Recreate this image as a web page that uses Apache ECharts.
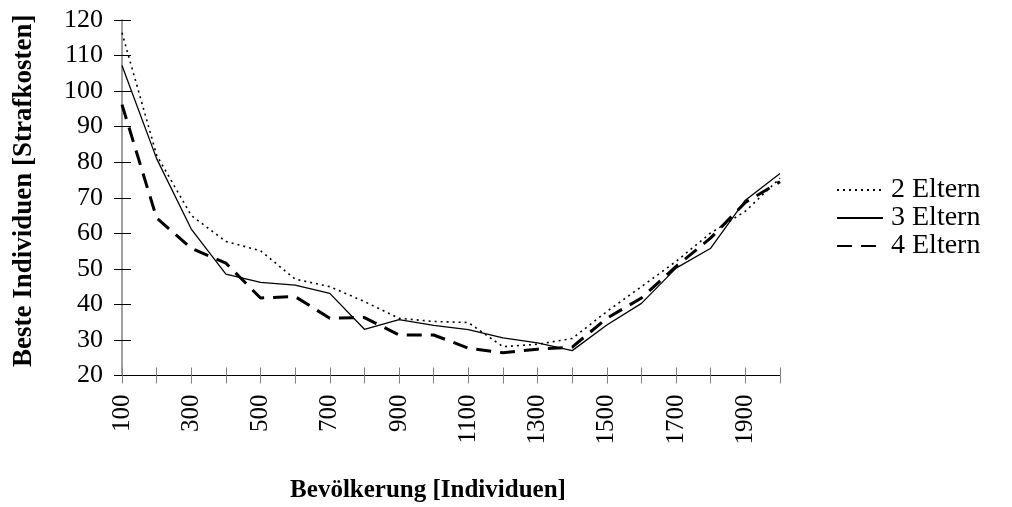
<!DOCTYPE html>
<html>
<head>
<meta charset="utf-8">
<script src="https://cdn.jsdelivr.net/npm/echarts@6/dist/echarts.min.js"></script>
<style>
  html, body { margin: 0; padding: 0; background: #fff; }
  #chart { width: 1012px; height: 507px; }
</style>
</head>
<body>
<div id="chart"></div>
<script>
// Populationsgrößen (x-Achse)
var categories = ['100', '200', '300', '400', '500', '600', '700', '800', '900', '1000',
  '1100', '1200', '1300', '1400', '1500', '1600', '1700', '1800', '1900', '2000'];

// Beste Individuen je Elternanzahl
var eltern2 = [116.4, 82, 65, 57.7, 55.1, 47.1, 45, 40.8, 36.1, 35.2,
  34.9, 28.1, 28.8, 30.4, 38, 45, 52.1, 60.1, 66.2, 75.5];
var eltern3 = [107.2, 81, 61.2, 48.5, 46.2, 45.4, 43.1, 33, 35.7, 34.1,
  32.9, 30.6, 29.2, 27, 34.2, 40.3, 50.2, 55.8, 69.3, 76.8];
var eltern4 = [96.2, 64.3, 55.8, 51.6, 41.8, 42.2, 36.1, 36.3, 31.4, 31.4,
  27.7, 26.4, 27.4, 28, 36.1, 41.8, 50.7, 58.7, 68.7, 74.5];

var serif = 'Liberation Serif';

var myChart = echarts.init(document.getElementById('chart'));

var option = {
  backgroundColor: '#fff',
  animation: false,
  textStyle: { fontFamily: serif, color: '#000' },
  grid: { left: 122, right: 232, top: 20, bottom: 131.5, outerBoundsMode: 'none', containLabel: false },
  legend: {
    orient: 'vertical',
    left: 831,
    top: 171,
    itemWidth: 46,
    itemHeight: 14,
    itemGap: 0,
    itemStyle: { opacity: 0 },
    textStyle: { fontFamily: serif, fontSize: 28, lineHeight: 28, color: '#000', padding: [0, 0, 0, 3] },
    data: ['2 Eltern', '3 Eltern', '4 Eltern']
  },
  xAxis: [{
    type: 'category',
    boundaryGap: false,
    data: categories,
    name: 'Bevölkerung [Individuen]',
    nameLocation: 'middle',
    nameGap: 103,
    nameTextStyle: { fontFamily: serif, fontSize: 25, fontWeight: 'bold', color: '#000', padding: [0, 46, 0, 0] },
    axisLine: { lineStyle: { color: '#000', width: 1 } },
    axisTick: { show: true, inside: false, length: 8, interval: 0, lineStyle: { color: '#808080' } },
    axisLabel: {
      interval: 1,
      rotate: 90,
      margin: 19,
      fontFamily: serif,
      fontSize: 25,
      color: '#000'
    },
    splitLine: { show: false }
  }, {
    type: 'category',
    position: 'bottom',
    boundaryGap: false,
    data: categories,
    axisLine: { show: false },
    axisTick: { show: true, inside: true, length: 8, interval: 0, lineStyle: { color: '#808080' } },
    axisLabel: { show: false },
    splitLine: { show: false }
  }],
  yAxis: [{
    type: 'value',
    min: 20,
    max: 120,
    interval: 10,
    name: 'Beste Individuen [Strafkosten]',
    nameLocation: 'middle',
    nameGap: 84,
    nameTextStyle: { fontFamily: serif, fontSize: 27, fontWeight: 'bold', color: '#000', padding: [0, 0, 0, 14] },
    axisLine: { show: true, lineStyle: { color: '#808080', width: 1.5 } },
    axisTick: { show: true, inside: false, length: 8, lineStyle: { color: '#000' } },
    axisLabel: { margin: 19, fontFamily: serif, fontSize: 26, color: '#000' },
    splitLine: { show: false }
  }, {
    type: 'value',
    position: 'left',
    min: 20,
    max: 120,
    interval: 10,
    axisLine: { show: false },
    axisTick: { show: true, inside: true, length: 9, lineStyle: { color: '#000' } },
    axisLabel: { show: false },
    splitLine: { show: false }
  }],
  series: [{
    name: '2 Eltern',
    type: 'line',
    data: eltern2,
    symbol: 'none',
    lineStyle: { color: '#000', width: 1.6, type: [2, 4] },
    itemStyle: { color: '#000' }
  }, {
    name: '3 Eltern',
    type: 'line',
    data: eltern3,
    symbol: 'none',
    lineStyle: { color: '#000', width: 1.3, type: 'solid' },
    itemStyle: { color: '#000' }
  }, {
    name: '4 Eltern',
    type: 'line',
    data: eltern4,
    symbol: 'none',
    lineStyle: { color: '#000', width: 3, type: [15, 9] },
    itemStyle: { color: '#000' }
  }]
};

myChart.setOption(option);
</script>
</body>
</html>
